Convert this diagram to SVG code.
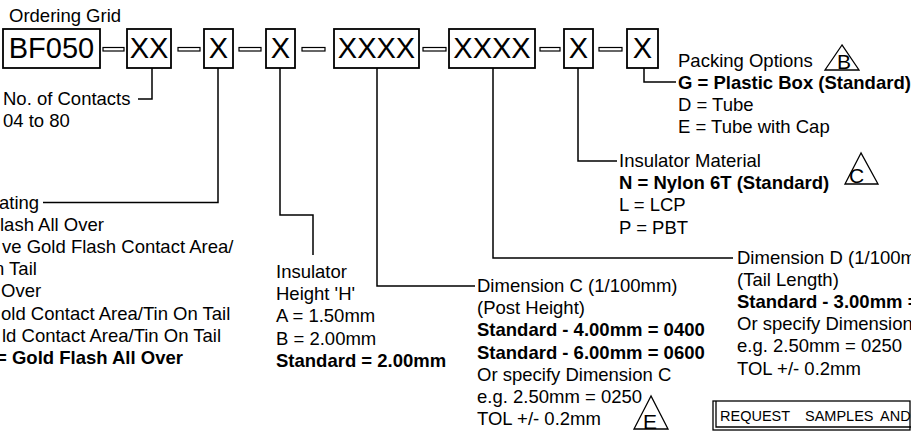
<svg xmlns="http://www.w3.org/2000/svg" width="911" height="438" viewBox="0 0 911 438">
<style>
text { font-family: "Liberation Sans", Arial, sans-serif; font-size: 18.5px; fill: #000; }
.b { font-weight: bold; }
.box rect { fill: #fff; stroke: #000; stroke-width: 1.8; }
.box text { font-size: 29px; text-anchor: middle; }
.dash { fill: #fff; stroke: #000; stroke-width: 1.2; }
.conn { fill: none; stroke: #000; stroke-width: 1.5; }
.tri { fill: none; stroke: #000; stroke-width: 1.3; }
.tl { font-size: 21px; }
.frame { fill: none; stroke: #000; stroke-width: 1.3; }
.req { font-size: 14.5px; }
</style>
<rect width="911" height="438" fill="#fff"/>

<text x="9" y="21.5">Ordering Grid</text>

<g id="dashes">
  <rect class="dash" x="103" y="47.5" width="21" height="3.5"/>
  <rect class="dash" x="178" y="47.5" width="22" height="3.5"/>
  <rect class="dash" x="239" y="47.5" width="22" height="3.5"/>
  <rect class="dash" x="302" y="47.5" width="23" height="3.5"/>
  <rect class="dash" x="423" y="47.5" width="23" height="3.5"/>
  <rect class="dash" x="540" y="47.5" width="20" height="3.5"/>
  <rect class="dash" x="599" y="47.5" width="23" height="3.5"/>
</g>

<g id="connectors">
  <polyline class="conn" points="152,68 152,99 138,99"/>
  <polyline class="conn" points="218,68 218,202.5 43,202.5"/>
  <polyline class="conn" points="280,68 280,215 313,215 313,255"/>
  <polyline class="conn" points="377,68 377,286 475,286"/>
  <polyline class="conn" points="493,68 493,258 733,258"/>
  <polyline class="conn" points="578,68 578,161 617,161"/>
  <polyline class="conn" points="644,68 644,82 676,82"/>
</g>

<g id="box-bf050" class="box"><rect x="3" y="29" width="97" height="39"/><text x="51.5" y="58">BF050</text></g>
<g id="box-contacts" class="box"><rect x="127" y="29" width="44" height="39"/><text x="149" y="58">XX</text></g>
<g id="box-plating" class="box"><rect x="204" y="29" width="29" height="39"/><text x="218.5" y="58">X</text></g>
<g id="box-height" class="box"><rect x="266" y="29" width="29" height="39"/><text x="280.5" y="58">X</text></g>
<g id="box-dimc" class="box"><rect x="334" y="29" width="85" height="39"/><text x="376.5" y="58">XXXX</text></g>
<g id="box-dimd" class="box"><rect x="449" y="29" width="86" height="39"/><text x="492" y="58">XXXX</text></g>
<g id="box-material" class="box"><rect x="564" y="29" width="29" height="39"/><text x="578.5" y="58">X</text></g>
<g id="box-packing" class="box"><rect x="627" y="29" width="31" height="39"/><text x="642.5" y="58">X</text></g>

<g id="label-contacts">
  <text x="3" y="104.5">No. of Contacts</text>
  <text x="3" y="126.5">04 to 80</text>
</g>

<g id="label-plating">
  <text x="-1" y="208.5">ating</text>
  <text x="0" y="230.7">lash All Over</text>
  <text x="2" y="252.9">ve Gold Flash Contact Area/</text>
  <text x="-6" y="275.1">n Tail</text>
  <text x="1" y="297.3">Over</text>
  <text x="1" y="319.5">old Contact Area/Tin On Tail</text>
  <text x="2" y="341.7">ld Contact Area/Tin On Tail</text>
  <text class="b" x="-4" y="363.9">= Gold Flash All Over</text>
</g>

<g id="label-height">
  <text x="276" y="278">Insulator</text>
  <text x="276" y="300.2">Height 'H'</text>
  <text x="276" y="322.4">A = 1.50mm</text>
  <text x="276" y="344.6">B = 2.00mm</text>
  <text class="b" x="276" y="366.8">Standard = 2.00mm</text>
</g>

<g id="label-dimc">
  <text x="477" y="292">Dimension C (1/100mm)</text>
  <text x="477" y="314.2">(Post Height)</text>
  <text class="b" x="477" y="336.4">Standard - 4.00mm = 0400</text>
  <text class="b" x="477" y="358.6">Standard - 6.00mm = 0600</text>
  <text x="477" y="380.8">Or specify Dimension C</text>
  <text x="477" y="403">e.g. 2.50mm = 0250</text>
  <text x="477" y="425.2">TOL +/- 0.2mm</text>
  <polygon class="tri" points="651,396 634,429 668,429"/>
  <text class="tl" x="643" y="428.5">E</text>
</g>

<g id="label-dimd">
  <text x="737" y="263.5">Dimension D (1/100m</text>
  <text x="737" y="285.7">(Tail Length)</text>
  <text class="b" x="737" y="307.9">Standard - 3.00mm =</text>
  <text x="737" y="330.1">Or specify Dimension</text>
  <text x="737" y="352.3">e.g. 2.50mm = 0250</text>
  <text x="737" y="374.5">TOL +/- 0.2mm</text>
</g>

<g id="label-material">
  <text x="619" y="167">Insulator Material</text>
  <text class="b" x="619" y="189.2">N = Nylon 6T (Standard)</text>
  <text x="619" y="211.4">L = LCP</text>
  <text x="619" y="233.6">P = PBT</text>
  <polygon class="tri" points="861,153 845,184 878,184"/>
  <text class="tl" x="849" y="182.5">C</text>
</g>

<g id="label-packing">
  <text x="678" y="66.5">Packing Options</text>
  <text class="b" x="678" y="88.7">G = Plastic Box (Standard)</text>
  <text x="678" y="110.9">D = Tube</text>
  <text x="678" y="133.1">E = Tube with Cap</text>
  <polygon class="tri" points="842,45 825,70 859,70"/>
  <text class="tl" x="837" y="68.5">B</text>
</g>

<g id="request">
  <rect class="frame" x="713" y="401" width="197" height="29"/>
  <polyline class="frame" points="716,401 716,427 911,427"/>
  <text class="req" y="420.5"><tspan x="720">REQUEST </tspan><tspan x="805">SAMPLES </tspan><tspan x="880">AND</tspan></text>
</g>
</svg>
